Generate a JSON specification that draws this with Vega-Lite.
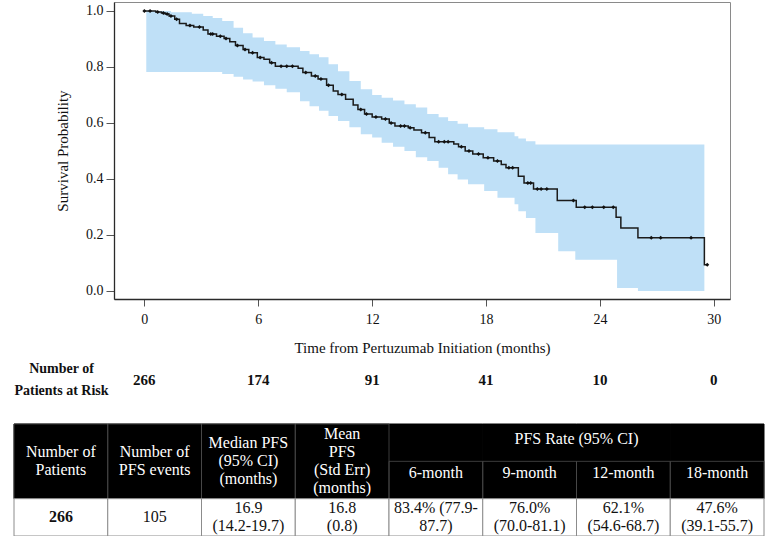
{
  "$schema": "https://vega.github.io/schema/vega-lite/v6.json",
  "padding": {"left": 13, "top": 1, "right": 2, "bottom": 0},
  "autosize": {"type": "pad"},
  "bounds": "flush",
  "spacing": 47.5,
  "datasets": {
    "km": [
      {"t": 0, "s": 1.0}, {"t": 0.6, "s": 0.996}, {"t": 0.9, "s": 0.993}, {"t": 1.1, "s": 0.989},
      {"t": 1.3, "s": 0.982}, {"t": 1.6, "s": 0.97}, {"t": 1.85, "s": 0.955}, {"t": 2.2, "s": 0.948},
      {"t": 2.6, "s": 0.943}, {"t": 3.1, "s": 0.932}, {"t": 3.35, "s": 0.918}, {"t": 3.8, "s": 0.91},
      {"t": 4.2, "s": 0.902}, {"t": 4.5, "s": 0.89}, {"t": 4.8, "s": 0.877}, {"t": 5.2, "s": 0.862},
      {"t": 5.5, "s": 0.851}, {"t": 5.95, "s": 0.834}, {"t": 6.3, "s": 0.828}, {"t": 6.6, "s": 0.815},
      {"t": 6.9, "s": 0.803}, {"t": 8.1, "s": 0.795}, {"t": 8.35, "s": 0.78}, {"t": 8.8, "s": 0.768},
      {"t": 9.15, "s": 0.757}, {"t": 9.6, "s": 0.735}, {"t": 9.95, "s": 0.714}, {"t": 10.2, "s": 0.702},
      {"t": 10.6, "s": 0.685}, {"t": 11.0, "s": 0.664}, {"t": 11.25, "s": 0.648}, {"t": 11.6, "s": 0.632},
      {"t": 12.0, "s": 0.621}, {"t": 12.5, "s": 0.614}, {"t": 12.9, "s": 0.6}, {"t": 13.2, "s": 0.589},
      {"t": 13.9, "s": 0.583}, {"t": 14.2, "s": 0.575}, {"t": 14.6, "s": 0.565}, {"t": 15.0, "s": 0.548},
      {"t": 15.3, "s": 0.533}, {"t": 16.3, "s": 0.525}, {"t": 16.55, "s": 0.515}, {"t": 16.9, "s": 0.5},
      {"t": 17.3, "s": 0.489}, {"t": 17.85, "s": 0.476}, {"t": 18.4, "s": 0.464}, {"t": 18.8, "s": 0.452},
      {"t": 19.05, "s": 0.44}, {"t": 19.7, "s": 0.41}, {"t": 20.0, "s": 0.386}, {"t": 20.5, "s": 0.364},
      {"t": 21.75, "s": 0.323}, {"t": 22.75, "s": 0.299}, {"t": 24.85, "s": 0.263}, {"t": 25.1, "s": 0.225},
      {"t": 26.0, "s": 0.19}, {"t": 29.5, "s": 0.094}, {"t": 29.65, "s": 0.094}
    ],
    "band": [
      {"t": 0.1, "lo": 0.782, "hi": 1.0}, {"t": 1.4, "lo": 0.782, "hi": 0.995}, {"t": 2.5, "lo": 0.782, "hi": 0.99},
      {"t": 3.1, "lo": 0.782, "hi": 0.982}, {"t": 3.6, "lo": 0.782, "hi": 0.975}, {"t": 4.1, "lo": 0.775, "hi": 0.964},
      {"t": 4.7, "lo": 0.765, "hi": 0.94}, {"t": 5.2, "lo": 0.755, "hi": 0.92}, {"t": 5.7, "lo": 0.748, "hi": 0.905},
      {"t": 6.3, "lo": 0.735, "hi": 0.893}, {"t": 6.9, "lo": 0.722, "hi": 0.88}, {"t": 7.5, "lo": 0.71, "hi": 0.87},
      {"t": 8.2, "lo": 0.678, "hi": 0.857}, {"t": 8.7, "lo": 0.66, "hi": 0.845}, {"t": 9.2, "lo": 0.644, "hi": 0.835},
      {"t": 9.7, "lo": 0.625, "hi": 0.81}, {"t": 10.2, "lo": 0.607, "hi": 0.785}, {"t": 10.8, "lo": 0.585, "hi": 0.75},
      {"t": 11.4, "lo": 0.56, "hi": 0.72}, {"t": 12.0, "lo": 0.548, "hi": 0.7}, {"t": 12.5, "lo": 0.529, "hi": 0.69},
      {"t": 13.1, "lo": 0.515, "hi": 0.68}, {"t": 13.7, "lo": 0.5, "hi": 0.667}, {"t": 14.3, "lo": 0.478, "hi": 0.655},
      {"t": 14.9, "lo": 0.464, "hi": 0.632}, {"t": 15.5, "lo": 0.44, "hi": 0.62}, {"t": 16.0, "lo": 0.417, "hi": 0.607},
      {"t": 16.5, "lo": 0.398, "hi": 0.597}, {"t": 17.05, "lo": 0.381, "hi": 0.585}, {"t": 17.9, "lo": 0.357, "hi": 0.578},
      {"t": 18.6, "lo": 0.333, "hi": 0.567}, {"t": 19.5, "lo": 0.31, "hi": 0.553}, {"t": 19.7, "lo": 0.285, "hi": 0.545},
      {"t": 20.1, "lo": 0.261, "hi": 0.535}, {"t": 20.6, "lo": 0.207, "hi": 0.523}, {"t": 21.8, "lo": 0.142, "hi": 0.523},
      {"t": 22.7, "lo": 0.112, "hi": 0.523}, {"t": 24.9, "lo": 0.011, "hi": 0.523}, {"t": 26.0, "lo": 0.0, "hi": 0.523},
      {"t": 29.5, "lo": 0.0, "hi": 0.523}
    ],
    "cens": [
      {"t": 0, "s": 1.0}, {"t": 0.3, "s": 1.0}, {"t": 0.7, "s": 0.996}, {"t": 1.0, "s": 0.993}, {"t": 1.2, "s": 0.989},
      {"t": 1.4, "s": 0.982}, {"t": 1.7, "s": 0.97}, {"t": 2.4, "s": 0.948}, {"t": 2.9, "s": 0.943}, {"t": 3.5, "s": 0.918},
      {"t": 3.6, "s": 0.918}, {"t": 4.0, "s": 0.91}, {"t": 4.3, "s": 0.902}, {"t": 4.9, "s": 0.877}, {"t": 5.3, "s": 0.862},
      {"t": 5.7, "s": 0.851}, {"t": 6.1, "s": 0.834}, {"t": 6.7, "s": 0.815}, {"t": 7.2, "s": 0.803}, {"t": 7.5, "s": 0.803},
      {"t": 7.8, "s": 0.803}, {"t": 8.5, "s": 0.78}, {"t": 9.0, "s": 0.768}, {"t": 9.3, "s": 0.757}, {"t": 9.7, "s": 0.735},
      {"t": 10.4, "s": 0.702}, {"t": 11.4, "s": 0.648}, {"t": 11.7, "s": 0.632}, {"t": 12.2, "s": 0.621}, {"t": 12.7, "s": 0.614},
      {"t": 13.0, "s": 0.6}, {"t": 13.5, "s": 0.589}, {"t": 13.7, "s": 0.589}, {"t": 14.0, "s": 0.583}, {"t": 14.8, "s": 0.565},
      {"t": 15.5, "s": 0.533}, {"t": 15.8, "s": 0.533}, {"t": 16.0, "s": 0.533}, {"t": 16.7, "s": 0.515}, {"t": 17.1, "s": 0.5},
      {"t": 17.6, "s": 0.489}, {"t": 18.1, "s": 0.476}, {"t": 18.6, "s": 0.464}, {"t": 19.2, "s": 0.44}, {"t": 19.4, "s": 0.44},
      {"t": 20.2, "s": 0.386}, {"t": 20.35, "s": 0.386}, {"t": 20.7, "s": 0.364}, {"t": 20.9, "s": 0.364}, {"t": 21.2, "s": 0.364},
      {"t": 22.6, "s": 0.323}, {"t": 23.2, "s": 0.299}, {"t": 23.6, "s": 0.299}, {"t": 24.2, "s": 0.299}, {"t": 24.7, "s": 0.299},
      {"t": 26.7, "s": 0.19}, {"t": 27.2, "s": 0.19}, {"t": 28.8, "s": 0.19}, {"t": 29.65, "s": 0.094}
    ],
    "risk": [
      {"t": 0, "n": 266, "lab": "Number of|Patients at Risk"},
      {"t": 6, "n": 174, "lab": "Number of|Patients at Risk"},
      {"t": 12, "n": 91, "lab": "Number of|Patients at Risk"},
      {"t": 18, "n": 41, "lab": "Number of|Patients at Risk"},
      {"t": 24, "n": 10, "lab": "Number of|Patients at Risk"},
      {"t": 30, "n": 0, "lab": "Number of|Patients at Risk"}
    ],
    "cells": [
      {"col": "patients", "part": "head", "text": "Number of\nPatients"},
      {"col": "events", "part": "head", "text": "Number of\nPFS events"},
      {"col": "median", "part": "head", "text": "Median PFS\n(95% CI)\n(months)"},
      {"col": "mean", "part": "head", "text": "Mean\nPFS\n(Std Err)\n(months)"},
      {"col": "m6", "part": "sub", "text": "6-month"},
      {"col": "m9", "part": "sub", "text": "9-month"},
      {"col": "m12", "part": "sub", "text": "12-month"},
      {"col": "m18", "part": "sub", "text": "18-month"},
      {"col": "m9", "part": "span", "text": "PFS Rate (95% CI)"},
      {"col": "patients", "part": "body", "text": "266"},
      {"col": "events", "part": "body", "text": "105"},
      {"col": "median", "part": "body", "text": "16.9\n(14.2-19.7)"},
      {"col": "mean", "part": "body", "text": "16.8\n(0.8)"},
      {"col": "m6", "part": "body", "text": "83.4% (77.9-\n87.7)"},
      {"col": "m9", "part": "body", "text": "76.0%\n(70.0-81.1)"},
      {"col": "m12", "part": "body", "text": "62.1%\n(54.6-68.7)"},
      {"col": "m18", "part": "body", "text": "47.6%\n(39.1-55.7)"}
    ]
  },
  "vconcat": [
    {
      "width": 616,
      "height": 297,
      "view": {"stroke": "#8a8a8a", "strokeWidth": 1},
      "layer": [
        {
          "data": {"name": "band"},
          "mark": {"type": "area", "interpolate": "step-after", "color": "#bfe0f7", "opacity": 1},
          "encoding": {
            "x": {"field": "t", "type": "quantitative", "scale": {"domain": [-1.6, 30.85], "nice": false, "zero": false},
                  "axis": {"values": [0, 6, 12, 18, 24, 30], "title": "Time from Pertuzumab Initiation (months)"}},
            "y": {"field": "lo", "type": "quantitative", "scale": {"domain": [-0.0286, 1.032], "nice": false, "zero": false},
                  "axis": {"values": [0, 0.2, 0.4, 0.6, 0.8, 1.0], "format": ".1f", "title": "Survival Probability"}},
            "y2": {"field": "hi"}
          }
        },
        {
          "data": {"name": "km"},
          "mark": {"type": "line", "interpolate": "step-after", "color": "#1b1b1b", "strokeWidth": 1.5},
          "encoding": {
            "x": {"field": "t", "type": "quantitative", "title": "Time from Pertuzumab Initiation (months)"},
            "y": {"field": "s", "type": "quantitative", "title": "Survival Probability"}
          }
        },
        {
          "data": {"name": "cens"},
          "mark": {"type": "point", "shape": "diamond", "filled": true, "size": 16, "color": "#111111", "opacity": 1},
          "encoding": {
            "x": {"field": "t", "type": "quantitative", "title": "Time from Pertuzumab Initiation (months)"},
            "y": {"field": "s", "type": "quantitative", "title": "Survival Probability"}
          }
        }
      ]
    },
    {
      "width": 616,
      "height": 30,
      "data": {"name": "risk"},
      "mark": {"type": "text", "font": "Liberation Serif", "fontSize": 15, "fontWeight": "bold", "color": "#111111", "dy": 18, "baseline": "middle"},
      "encoding": {
        "x": {"field": "t", "type": "quantitative", "scale": {"domain": [-1.6, 30.85], "nice": false, "zero": false}, "axis": null},
        "y": {"field": "lab", "type": "nominal", "title": null,
              "axis": {"labelExpr": "split(datum.label, '|')", "ticks": false, "tickSize": 0, "domain": false,
                       "labelPadding": 53, "labelAlign": "center", "labelFontWeight": "bold", "labelFontSize": 14,
                       "labelLineHeight": 22, "labelOffset": 7, "labelColor": "#111111", "labelFont": "Liberation Serif"}},
        "text": {"field": "n", "type": "quantitative"}
      }
    },
    {
      "width": 650,
      "height": 112,
      "data": {"name": "cells"},
      "encoding": {
        "x": {"field": "col", "type": "nominal", "axis": null,
              "scale": {"type": "band", "domain": ["patients", "events", "median", "mean", "m6", "m9", "m12", "m18"],
                        "range": [-100, 650], "paddingInner": 0, "paddingOuter": 0}}
      },
      "layer": [
        {
          "transform": [{"filter": "datum.part === 'head' || datum.part === 'sub'"}],
          "mark": {"type": "rect", "fill": "#000000", "stroke": "#000000", "strokeWidth": 1},
          "encoding": {
            "y": {"datum": 0, "type": "quantitative", "scale": {"domain": [0, 3], "reverse": true, "nice": false, "zero": false}, "axis": null},
            "y2": {"datum": 2}
          }
        },
        {
          "transform": [{"filter": "datum.part === 'head'"}],
          "mark": {"type": "rect", "fillOpacity": 0, "stroke": "#4a4a4a", "strokeWidth": 0.8},
          "encoding": {
            "y": {"datum": 0, "type": "quantitative"},
            "y2": {"datum": 2}
          }
        },
        {
          "transform": [{"filter": "datum.part === 'sub'"}],
          "mark": {"type": "rect", "fillOpacity": 0, "stroke": "#4a4a4a", "strokeWidth": 0.8},
          "encoding": {
            "y": {"datum": 1, "type": "quantitative"},
            "y2": {"datum": 2}
          }
        },
        {
          "transform": [{"filter": "datum.part === 'body'"}],
          "mark": {"type": "rect", "fill": "#ffffff", "stroke": "#8c8c8c", "strokeWidth": 1},
          "encoding": {
            "y": {"datum": 2, "type": "quantitative"},
            "y2": {"datum": 3}
          }
        },
        {
          "transform": [{"filter": "datum.part === 'head'"}],
          "mark": {"type": "text", "font": "Liberation Serif", "fontSize": 16, "lineBreak": "\n", "lineHeight": 18, "color": "#ffffff", "baseline": "middle",
                   "dy": {"expr": "-(length(split(datum.text, '\\n')) - 1) * 9"}},
          "encoding": {
            "y": {"datum": 1, "type": "quantitative"},
            "text": {"field": "text"}
          }
        },
        {
          "transform": [{"filter": "datum.part === 'sub'"}],
          "mark": {"type": "text", "font": "Liberation Serif", "fontSize": 16, "color": "#ffffff", "baseline": "middle"},
          "encoding": {
            "y": {"datum": 1.32, "type": "quantitative"},
            "text": {"field": "text"}
          }
        },
        {
          "transform": [{"filter": "datum.part === 'span'"}],
          "mark": {"type": "text", "font": "Liberation Serif", "fontSize": 16, "color": "#ffffff", "baseline": "middle"},
          "encoding": {
            "x": {"field": "col", "type": "nominal", "bandPosition": 1},
            "y": {"datum": 0.4, "type": "quantitative"},
            "text": {"field": "text"}
          }
        },
        {
          "transform": [{"filter": "datum.part === 'body'"}],
          "mark": {"type": "text", "font": "Liberation Serif", "fontSize": 16, "lineBreak": "\n", "lineHeight": 18, "color": "#111111", "baseline": "middle",
                   "dy": {"expr": "-(length(split(datum.text, '\\n')) - 1) * 9"},
                   "fontWeight": {"expr": "datum.col === 'patients' ? 'bold' : 'normal'"}},
          "encoding": {
            "y": {"datum": 2.5, "type": "quantitative"},
            "text": {"field": "text"}
          }
        }
      ]
    }
  ],
  "config": {
    "view": {"stroke": null},
    "font": "Liberation Serif",
    "axis": {
      "grid": false,
      "labelFont": "Liberation Serif",
      "titleFont": "Liberation Serif",
      "labelFontSize": 14,
      "titleFontSize": 15,
      "titleFontWeight": "normal",
      "labelColor": "#111111",
      "titleColor": "#111111",
      "domainColor": "#2a2a2a",
      "domainWidth": 1.3,
      "tickColor": "#555555",
      "tickWidth": 1
    },
    "axisX": {"tickSize": 7, "labelPadding": 6, "titlePadding": 14},
    "axisY": {"tickSize": 8, "labelPadding": 3, "titlePadding": 15}
  }
}
